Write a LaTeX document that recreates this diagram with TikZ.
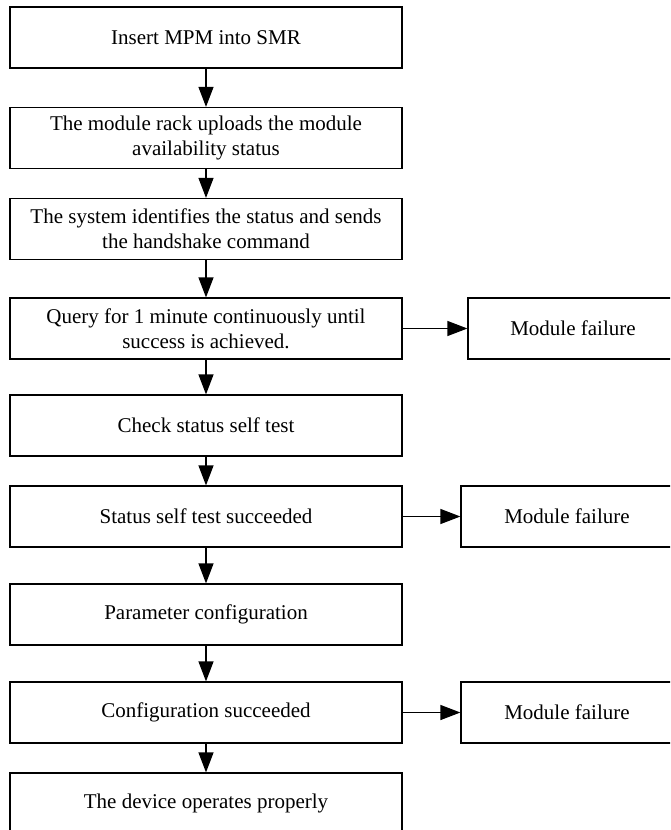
\documentclass[tikz,border=0pt]{standalone}
\usepackage{fontspec}
\setmainfont{Liberation Serif}
\usetikzlibrary{arrows.meta}
\begin{document}
\begin{tikzpicture}[x=1pt,y=-1pt,
  stepbox/.style={draw=black,line width=1.2pt,fill=white,inner sep=0pt,
    minimum width=392pt,minimum height=61pt,align=center,
    font=\fontsize{21}{25}\selectfont},
  failbox/.style={stepbox,minimum width=212pt},
  flow/.style={line width=1.2pt,-{Triangle[length=20pt,width=15pt]}}]
  \useasboundingbox (0,0) rectangle (670,830);
  \clip (0,0) rectangle (670,830);
  \fill[white] (0,0) rectangle (670,830);

  % main sequence
  \node[stepbox] (s1) at (206,37.5) {Insert MPM into SMR};
  \node[stepbox] (s2) at (206,138) {The module rack uploads the module\\availability status};
  \node[stepbox] (s3) at (206,229) {The system identifies the status and sends\\the handshake command};
  \node[stepbox] (s4) at (206,328.5) {Query for 1 minute continuously until\\success is achieved.};
  \node[stepbox] (s5) at (206,425.5) {Check status self test};
  \node[stepbox] (s6) at (206,516.5) {Status self test succeeded};
  \node[stepbox] (s7) at (206,614.5) {Parameter configuration};
  \node[stepbox] (s8) at (206,712.5) {Configuration succeeded};
  \node[stepbox] (s9) at (206,803.5) {The device operates properly};

  % failure branches
  \node[failbox,minimum width=210pt] (f1) at (573,328.5) {Module failure};
  \node[failbox] (f2) at (567,516.5) {Module failure};
  \node[failbox] (f3) at (567,712.5) {Module failure};

  % connectors
  \foreach \a/\b in {s1/s2,s2/s3,s3/s4,s4/s5,s5/s6,s6/s7,s7/s8,s8/s9}
    \draw[flow] (\a.south) -- (\b.north);
  \draw[flow] (s4.east) -- (f1.west);
  \draw[flow] (s6.east) -- (f2.west);
  \draw[flow] (s8.east) -- (f3.west);
\end{tikzpicture}
\end{document}
